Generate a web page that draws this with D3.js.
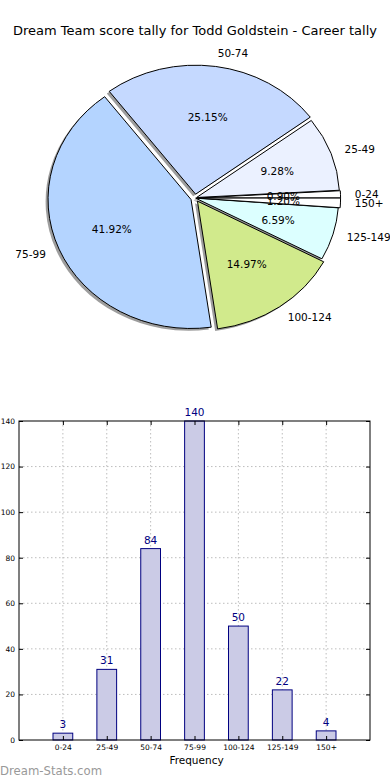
<!DOCTYPE html>
<html>
<head>
<meta charset="utf-8">
<script src="https://cdn.jsdelivr.net/npm/d3@7/dist/d3.min.js"></script>
<style>
  body { margin:0; background:#fff; }
  svg { display:block; font-family:"DejaVu Sans", sans-serif; }
</style>
</head>
<body>
<div id="chart"></div>
<script>
// data
var categories = ["0-24","25-49","50-74","75-99","100-124","125-149","150+"];
var counts = [3, 31, 84, 140, 50, 22, 4];
var sliceColors = ["#ffffff","#ebf1ff","#c5d9ff","#b4d4ff","#d1ea8c","#dcffff","#ffffff"];
var explode = [0.018, 0.012, 0.03, 0.03, 0.03, 0.005, 0.018];
var yTicks = [0, 20, 40, 60, 80, 100, 120, 140];

var W = 390, H = 780;
var svg = d3.select("#chart").append("svg")
    .attr("width", W).attr("height", H);

// title
svg.append("text")
   .attr("x", 195).attr("y", 35)
   .attr("text-anchor","middle")
   .style("font-size","13px")
   .text("Dream Team score tally for Todd Goldstein - Career tally");

// ---- pie (elliptical, like the original) ----
var cx = 195, cy = 198, rx = 143, ry = 129;
var total = d3.sum(counts);
var pct = d3.format(".2f");

var pie = d3.pie().sort(null)
    .startAngle(Math.PI/2)
    .endAngle(Math.PI/2 - 2*Math.PI);
var arcs = pie(counts);
var arc = d3.arc().innerRadius(0).outerRadius(1);

function mid(d){ return (d.startAngle + d.endAngle)/2; }
function off(d, i){
  var a = mid(d);
  return [explode[i]*rx*Math.sin(a), -explode[i]*ry*Math.cos(a)];
}

var pg = svg.append("g");

// shadows first
pg.selectAll("path.shadow")
  .data(arcs).enter().append("path")
  .attr("class","shadow")
  .attr("transform", function(d,i){ var o = off(d,i);
      return "translate(" + (cx+o[0]-0.017*rx) + "," + (cy+o[1]+0.017*ry) + ") scale(" + rx + "," + ry + ")"; })
  .attr("d", arc)
  .attr("fill","#858585")
  .attr("opacity",0.8);

pg.selectAll("path.slice")
  .data(arcs).enter().append("path")
  .attr("class","slice")
  .attr("transform", function(d,i){ var o = off(d,i);
      return "translate(" + (cx+o[0]) + "," + (cy+o[1]) + ") scale(" + rx + "," + ry + ")"; })
  .attr("d", arc)
  .attr("fill", function(d,i){ return sliceColors[i]; })
  .attr("stroke","#000")
  .attr("stroke-width",1)
  .attr("vector-effect","non-scaling-stroke");

// category labels
pg.selectAll("text.lab")
  .data(arcs).enter().append("text")
  .attr("class","lab")
  .attr("x", function(d,i){ return cx + off(d,i)[0] + 1.1*rx*Math.sin(mid(d)); })
  .attr("y", function(d,i){ return cy + off(d,i)[1] - 1.1*ry*Math.cos(mid(d)); })
  .attr("dy","0.36em")
  .attr("text-anchor", function(d){ return Math.sin(mid(d)) > 0 ? "start" : "end"; })
  .style("font-size","10.5px")
  .text(function(d,i){ return categories[i]; });

// percent labels
pg.selectAll("text.pct")
  .data(arcs).enter().append("text")
  .attr("class","pct")
  .attr("x", function(d,i){ return cx + off(d,i)[0] + 0.6*rx*Math.sin(mid(d)); })
  .attr("y", function(d,i){ return cy + off(d,i)[1] - 0.6*ry*Math.cos(mid(d)); })
  .attr("dy","0.36em")
  .attr("text-anchor","middle")
  .style("font-size","10.5px")
  .text(function(d){ return pct(d.data/total*100) + "%"; });

// ---- bar chart ----
var plotL = 19, plotR = 370, plotT = 421, plotB = 740;
var x = d3.scaleLinear().domain([-1, 7]).range([plotL, plotR]);
var y = d3.scaleLinear().domain([0, 140]).range([plotB, plotT]);
var bw = x(0.45) - x(0);

var bg = svg.append("g");

// grid
bg.selectAll("line.hg").data(yTicks.slice(1, -1)).enter().append("line")
  .attr("x1", plotL).attr("x2", plotR)
  .attr("y1", function(d){ return y(d); }).attr("y2", function(d){ return y(d); })
  .attr("stroke","#bdbdbd").attr("stroke-dasharray","1.5,2.5");
bg.selectAll("line.vg").data(categories).enter().append("line")
  .attr("y1", plotT).attr("y2", plotB)
  .attr("x1", function(d,i){ return x(i); }).attr("x2", function(d,i){ return x(i); })
  .attr("stroke","#bdbdbd").attr("stroke-dasharray","1.5,2.5");

// bars
bg.selectAll("rect.bar").data(counts).enter().append("rect")
  .attr("x", function(d,i){ return x(i) - bw/2; })
  .attr("y", function(d){ return y(d); })
  .attr("width", bw)
  .attr("height", function(d){ return plotB - y(d); })
  .attr("fill","#cbcbe6")
  .attr("stroke","#000080")
  .attr("stroke-width",1);

// value labels
bg.selectAll("text.val").data(counts).enter().append("text")
  .attr("x", function(d,i){ return x(i); })
  .attr("y", function(d){ return y(d) - 5; })
  .attr("text-anchor","middle")
  .attr("fill","#000080")
  .style("font-size","10.5px")
  .text(function(d){ return d; });

// axes
var leftAxis = d3.axisLeft(y).tickValues(yTicks).tickSize(-4).tickPadding(4);
bg.append("g").attr("transform","translate(" + plotL + ",0)").call(leftAxis)
  .call(function(g){ g.selectAll("text").style("font-size","7.5px").attr("font-family","DejaVu Sans"); });
var rightAxis = d3.axisRight(y).tickValues(yTicks).tickSize(-4).tickFormat("");
bg.append("g").attr("transform","translate(" + plotR + ",0)").call(rightAxis);

var bottomAxis = d3.axisBottom(x).tickValues(d3.range(categories.length))
    .tickFormat(function(i){ return categories[i]; })
    .tickSize(-4).tickPadding(5);
bg.append("g").attr("transform","translate(0," + plotB + ")").call(bottomAxis)
  .call(function(g){ g.selectAll("text").style("font-size","7.5px").attr("font-family","DejaVu Sans"); });
var topAxis = d3.axisTop(x).tickValues(d3.range(categories.length)).tickSize(-4).tickFormat("");
bg.append("g").attr("transform","translate(0," + plotT + ")").call(topAxis);

bg.selectAll(".domain").remove();
bg.append("rect")
  .attr("x", plotL).attr("y", plotT)
  .attr("width", plotR-plotL).attr("height", plotB-plotT)
  .attr("fill","none").attr("stroke","#000").attr("stroke-width",1);

svg.append("text")
   .attr("x", (plotL+plotR)/2 + 2).attr("y", 764)
   .attr("text-anchor","middle")
   .style("font-size","10.5px")
   .text("Frequency");

svg.append("text")
   .attr("x", 0).attr("y", 775)
   .attr("fill","#999")
   .style("font-size","11.7px")
   .text("Dream-Stats.com");
</script>
</body>
</html>
